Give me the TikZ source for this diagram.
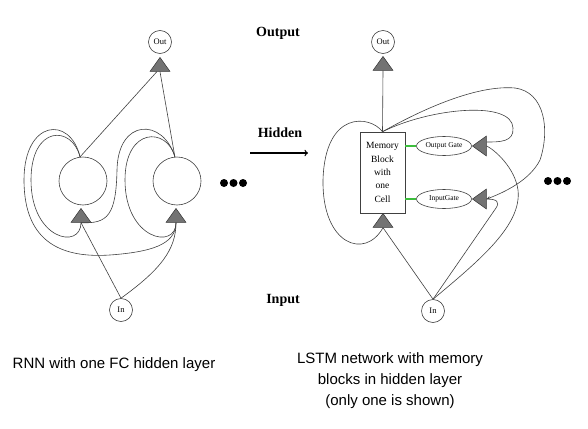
\documentclass[tikz,border=0pt]{standalone}
\usepackage{fontspec}
\setmainfont{Liberation Serif}
\setsansfont{Liberation Sans}
\usetikzlibrary{shapes.geometric, arrows, positioning, calc}
\definecolor{linkgreen}{RGB}{60,190,60}
\tikzstyle{unit} = [draw=black!75, circle, minimum size=48pt, inner sep=0pt, line width=0.6pt]
\tikzstyle{io} = [draw=black!75, circle, minimum size=23pt, inner sep=0pt, line width=0.6pt, font=\fontsize{8.5}{9}\selectfont]
\tikzstyle{gain} = [draw=black!80, fill=black!55, isosceles triangle, isosceles triangle apex angle=71, minimum width=14pt, minimum height=14pt, inner sep=0pt, line width=0.5pt]
\tikzstyle{gate} = [draw=black!75, ellipse, minimum width=55pt, minimum height=19pt, inner sep=0pt, line width=0.6pt, font=\fontsize{7.5}{8}\selectfont]
\tikzstyle{block} = [draw=black!75, rectangle, minimum width=40pt, minimum height=81pt, text width=38pt, align=center, line width=0.6pt, font=\fontsize{9.5}{13.3}\selectfont]
\tikzstyle{layer} = [font=\fontsize{14}{16}\selectfont\bfseries]
\tikzstyle{caption} = [font=\sffamily\fontsize{15}{21}\selectfont, align=center]
\tikzstyle{wire} = [draw=black!75, line width=0.6pt]
\tikzstyle{link} = [draw=linkgreen, line width=1.2pt]
\tikzstyle{arrow} = [line width=1.3pt,->]

\begin{document}
\begin{tikzpicture}[x=1pt, y=-1pt]
\useasboundingbox (0,0) rectangle (588,428);
            % Layer labels
            \node (OutputLbl) [layer] at (278,33) {Output};
            \node (HiddenLbl) [layer] at (280,133) {Hidden};
            \node (InputLbl) [layer] at (283,300) {Input};
            \coordinate (ArrowStart) at (250,153);
            \coordinate (ArrowEnd) at (308,153);
            \draw [arrow] (ArrowStart) -- (ArrowEnd);

            % RNN with one FC hidden layer
            \node (OutL) [io] at (160,42) {Out};
            \node (TriOutL) [gain, shape border rotate=90, anchor=apex] at (160,57) {};
            \node (HidA) [unit] at (83,181) {};
            \node (HidB) [unit] at (177,181) {};
            \node (TriA) [gain, shape border rotate=90, anchor=apex] at (81,208) {};
            \node (TriB) [gain, shape border rotate=90, anchor=apex] at (176,208) {};
            \node (InL) [io] at (121,310) {In};
            \foreach \i in {0,1,2} \fill (224+\i*9.5,183) circle (4);

            \draw [wire] (HidA.97) -- ($(TriOutL.left corner)!0.35!(TriOutL.right corner)$);
            \draw [wire] (HidB.95) -- (TriOutL.lower side);
            \draw [wire] (HidA.97) .. controls (70,115) and (24,120) .. (24,180) .. controls (24,245) and (65,258) .. (110,255) .. controls (150,252) and (176,245) .. (TriB.lower side);
            \draw [wire] (HidA.97) .. controls (72,125) and (31,125) .. (31,180) .. controls (31,240) and (81,250) .. (TriA.lower side);
            \draw [wire] (HidB.95) .. controls (163,118) and (118,118) .. (117,170) .. controls (116,215) and (108,224) .. (TriA.lower side);
            \draw [wire] (HidB.95) .. controls (167,127) and (125,127) .. (125,180) .. controls (125,240) and (176,250) .. (TriB.lower side);
            \draw [wire] (InL.north) -- (TriA.lower side);
            \draw [wire] (InL.north) .. controls (160,270) and (176,250) .. (TriB.lower side);

            % LSTM network with memory blocks
            \node (OutR) [io] at (383,42) {Out};
            \node (TriOutR) [gain, shape border rotate=90, anchor=apex] at (383,56) {};
            \node (Block) [block] at (382.5,172.5) {Memory\\Block\\with\\one\\Cell};
            \node (TriBlock) [gain, shape border rotate=90, anchor=apex] at (383,213) {};
            \node (OutGate) [gate] at (444,146) {Output Gate};
            \node (InGate) [gate] at (444,199) {InputGate};
            \node (TriOG) [gain, shape border rotate=180, anchor=apex] at (472,146) {};
            \node (TriIG) [gain, shape border rotate=180, anchor=apex] at (472,199) {};
            \node (InR) [io] at (433,311) {In};
            \foreach \i in {0,1,2} \fill (548+\i*9.5,181) circle (4);

            \draw [wire] (Block.north) -- (TriOutR.lower side);
            \draw [wire] (Block.north) .. controls (370,115) and (325,110) .. (323,180) .. controls (322,245) and (365,260) .. (TriBlock.lower side);
            \draw [wire] (Block.north) .. controls (430,108) and (512,100) .. (513,128) .. controls (514,142) and (500,142) .. ($(TriOG.lower side)+(0,-4)$);
            \draw [wire, ->, >=stealth] (Block.north) .. controls (430,105) and (480,85) .. (515,88) .. controls (545,92) and (550,130) .. (540,160) .. controls (530,180) and (505,192) .. (TriIG.lower side);
            \draw [wire] (InR.north) -- (TriBlock.lower side);
            \draw [wire] (InR.north) -- (496,208) .. controls (500,202) and (497,199) .. (TriIG.lower side);
            \draw [wire] (InR.north) .. controls (480,260) and (522,225) .. (518,190) .. controls (515,168) and (495,150) .. (TriOG.lower side);
            \draw [link] (Block.east |- OutGate.west) -- (OutGate.west);
            \draw [link] (Block.east |- InGate.west) -- (InGate.west);

            % Captions
            \node (CapL) [caption] at (114,365) {RNN with one FC hidden layer};
            \node (CapR) [caption] at (390,381) {LSTM network with memory\\blocks in hidden layer\\(only one is shown)};
\end{tikzpicture}
\end{document}
